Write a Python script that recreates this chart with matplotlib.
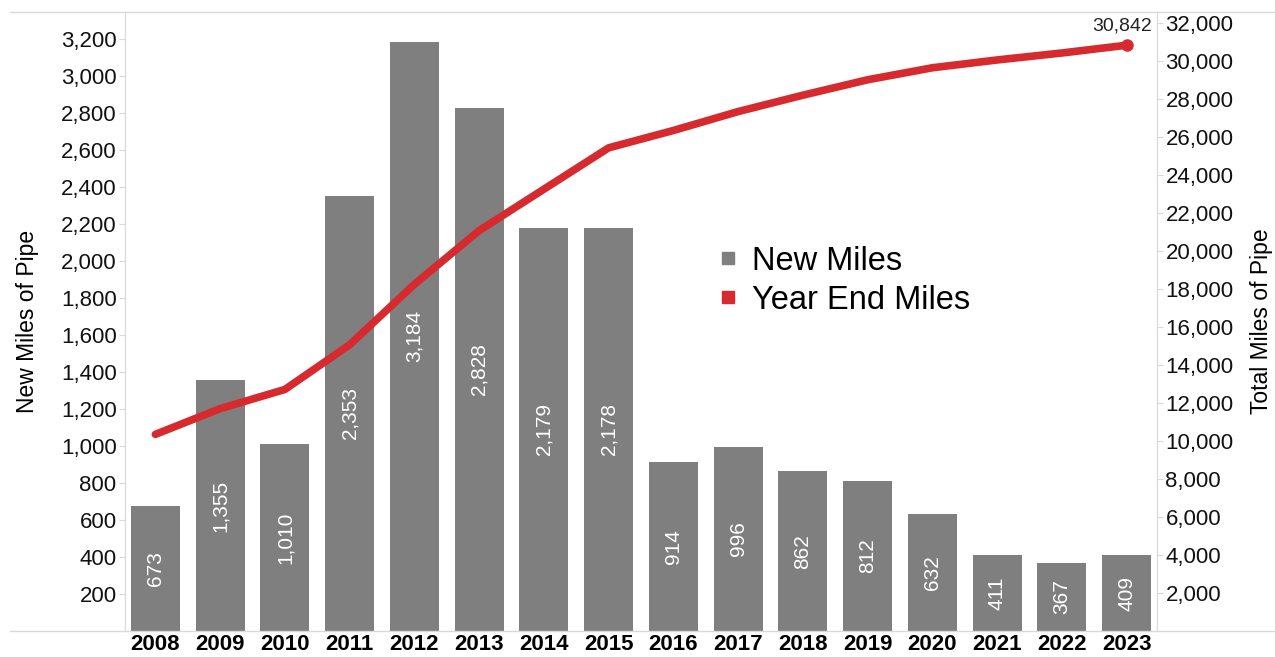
import matplotlib
matplotlib.use("Agg")
import matplotlib.pyplot as plt
from matplotlib.lines import Line2D
from matplotlib.ticker import FuncFormatter

plt.rcParams['font.family'] = ['Liberation Sans', 'DejaVu Sans']

years = ["2008", "2009", "2010", "2011", "2012", "2013", "2014", "2015",
         "2016", "2017", "2018", "2019", "2020", "2021", "2022", "2023"]
new_miles = [673, 1355, 1010, 2353, 3184, 2828, 2179, 2178,
             914, 996, 862, 812, 632, 411, 367, 409]
year_end_miles = [10352, 11707, 12717, 15070, 18254, 21082, 23261, 25439,
                  26353, 27349, 28211, 29023, 29655, 30066, 30433, 30842]

left_ticks = list(range(200, 3201, 200))
right_ticks = list(range(2000, 32001, 2000))

bar_color = "#7f7f7f"
line_color = "#d62a2e"
axis_gray = "#d9d9d9"

fig = plt.figure(figsize=(12.75, 6.57), dpi=100)
ax = fig.add_axes([0.098, 0.0396, 0.8095, 0.9421])
ax2 = ax.twinx()

x = list(range(len(years)))
ax.bar(x, new_miles, width=0.76, color=bar_color, zorder=2)
for xi, v in zip(x, new_miles):
    ax.text(xi, v / 2, f"{v:,}", rotation=90, ha="center", va="center",
            color="white", fontsize=15, zorder=3)

ax2.plot(x, year_end_miles, color=line_color, lw=5.5, solid_capstyle="round", zorder=4)
ax2.plot(x[-1], year_end_miles[-1], "o", color=line_color, ms=8, zorder=5)
ax2.annotate(f"{year_end_miles[-1]:,}", (x[-1], year_end_miles[-1]),
             xytext=(-3, 8), textcoords="offset points", ha="center", va="bottom",
             fontsize=14, color="#222222")

ax.set_xlim(-0.47, 15.47)
ax.set_ylim(0, 3345)
ax2.set_ylim(0, 32590)

ax.set_xticks(x)
ax.set_xticklabels(years, fontsize=16, fontweight="bold", color="black")
ax.tick_params(axis="x", length=0, pad=2)

ax.set_yticks(left_ticks)
ax2.set_yticks(right_ticks)
fmt = FuncFormatter(lambda v, p: f"{int(v):,}")
ax.yaxis.set_major_formatter(fmt)
ax2.yaxis.set_major_formatter(fmt)
ax.tick_params(axis="y", labelsize=16, length=4, color=axis_gray, pad=2, labelcolor="#111111")
ax2.tick_params(axis="y", labelsize=16, length=4, color=axis_gray, pad=2, labelcolor="#111111")

ax.set_ylabel("New Miles of Pipe", fontsize=16.5, labelpad=16)
ax2.set_ylabel("Total Miles of Pipe", fontsize=16.5, labelpad=12)

for a in (ax, ax2):
    for side in ("top", "bottom"):
        a.spines[side].set_visible(False)
    a.spines["left"].set_color(axis_gray)
    a.spines["right"].set_color(axis_gray)
ax.set_zorder(ax2.get_zorder() - 1)
ax2.patch.set_visible(False)
ax.patch.set_visible(False)

# Full-width horizontal rules at the top and bottom of the plotting area
for yf in (0.9817, 0.0396):
    fig.add_artist(Line2D([0.008, 1.0], [yf, yf], color=axis_gray, lw=1,
                          transform=fig.transFigure))

handles = [Line2D([], [], marker="s", ls="", color=bar_color, ms=8),
           Line2D([], [], marker="s", ls="", color=line_color, ms=8)]
ax2.legend(handles, ["New Miles", "Year End Miles"], loc="upper left",
           bbox_to_anchor=(0.54, 0.67), frameon=False, fontsize=23.5,
           handletextpad=0.25, labelspacing=0.25, handlelength=1.0)

fig.savefig("out.png", dpi=100)
